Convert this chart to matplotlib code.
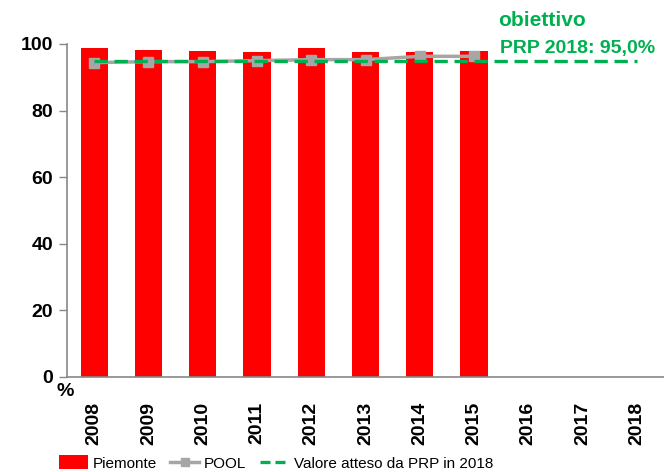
import matplotlib
matplotlib.use("Agg")
import matplotlib.pyplot as plt
from matplotlib.lines import Line2D
from matplotlib.patches import Patch

years = ["2008", "2009", "2010", "2011", "2012", "2013", "2014", "2015", "2016", "2017", "2018"]
piemonte = [98.7, 98.2, 97.9, 97.6, 98.7, 97.6, 97.6, 97.9]
pool = [94.4, 94.7, 94.7, 95.0, 95.3, 95.3, 96.3, 96.3]
target = [95.0] * 11
yticks = [0, 20, 40, 60, 80, 100]

plt.rcParams['font.family'] = ['Liberation Sans', 'DejaVu Sans']

fig = plt.figure(figsize=(6.64, 4.72), dpi=100)
ax = fig.add_axes([67 / 664, 1 - 376.7 / 472, 597 / 664, (376.7 - 44) / 472])

x = list(range(len(years)))
ax.bar(x[:len(piemonte)], piemonte, width=0.5, color="#FF0000", zorder=2)
ax.plot(x[:len(pool)], pool, color="#A6A6A6", lw=2.5, marker="s", ms=7.5,
        mec="#A6A6A6", mfc="#A6A6A6", zorder=3)
ax.plot(x, target, color="#00B050", lw=2.4, ls=(0, (4, 2)), zorder=4)

ax.set_xlim(-0.5, len(years) - 0.5)
ax.set_ylim(0, 100)
ax.set_yticks(yticks)
ax.set_yticklabels([str(v) for v in yticks], fontsize=14, fontweight="bold")
ax.set_xticks(x)
ax.set_xticklabels(years, rotation=90, fontsize=14, fontweight="bold")
ax.tick_params(axis="x", length=0, pad=18)
ax.tick_params(axis="y", length=6, color="#888888", width=1, pad=4)

for s in ["top", "right"]:
    ax.spines[s].set_visible(False)
for s in ["left", "bottom"]:
    ax.spines[s].set_color("#888888")
    ax.spines[s].set_linewidth(1.2)

fig.text(65 / 664, 1 - 391 / 472, "%", fontsize=14, fontweight="bold", ha="center", va="center")

fig.text(498 / 664, 1 - 21 / 472, "obiettivo", fontsize=15, fontweight="bold",
         color="#00B050", ha="left", va="center")
fig.text(500 / 664, 1 - 49 / 472, "PRP 2018: 95,0%", fontsize=14, fontweight="bold",
         color="#00B050", ha="left", va="center")

handles = [
    Patch(facecolor="#FF0000", edgecolor="none"),
    Line2D([0], [0], color="#A6A6A6", lw=2.5, marker="s", ms=6),
    Line2D([0], [0], color="#00B050", lw=2.4, ls=(0, (3, 1.5))),
]
labels = ["Piemonte", "POOL", "Valore atteso da PRP in 2018"]
fig.legend(handles, labels, loc="center", bbox_to_anchor=(276 / 664, 1 - 463 / 472),
           ncol=3, frameon=False, handlelength=1.9, handletextpad=0.3,
           columnspacing=0.9, borderpad=0, borderaxespad=0, handleheight=1.0,
           prop={"family": ["Liberation Sans"], "size": 11})

fig.savefig("out.png", dpi=100)
